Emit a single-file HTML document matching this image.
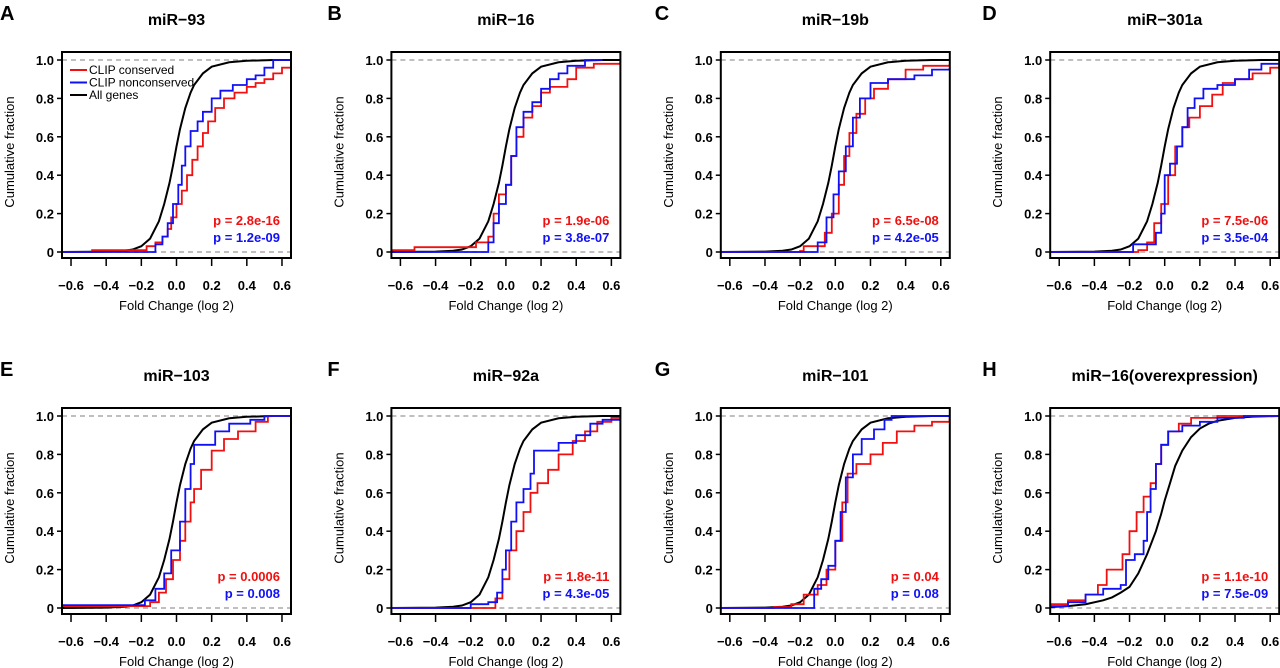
<!DOCTYPE html>
<html><head><meta charset="utf-8">
<style>
html,body{margin:0;padding:0;background:#fff;}
svg{display:block;font-family:"Liberation Sans",Arial,sans-serif;}
</style></head>
<body>
<svg id="fig" width="1280" height="668" viewBox="0 0 1280 668"></svg>
<script>
// ---- data ----
const panelLetters = ["A","B","C","D","E","F","G","H"];
const panelTitles = ["miR\u221293","miR\u221216","miR\u221219b","miR\u2212301a","miR\u2212103","miR\u221292a","miR\u2212101","miR\u221216(overexpression)"];
const pRed = ["p = 2.8e-16","p = 1.9e-06","p = 6.5e-08","p = 7.5e-06","p = 0.0006","p = 1.8e-11","p = 0.04","p = 1.1e-10"];
const pBlue = ["p = 1.2e-09","p = 3.8e-07","p = 4.2e-05","p = 3.5e-04","p = 0.008","p = 4.3e-05","p = 0.08","p = 7.5e-09"];
const xTicks = [-0.6,-0.4,-0.2,0.0,0.2,0.4,0.6];
const xTickLabels = ["\u22120.6","\u22120.4","\u22120.2","0.0","0.2","0.4","0.6"];
const yTicks = [0,0.2,0.4,0.6,0.8,1.0];
const yTickLabels = ["0","0.2","0.4","0.6","0.8","1.0"];

const blackStd = [[-0.65,0],[-0.4,0.002],[-0.3,0.006],[-0.25,0.013],[-0.2,0.03],[-0.15,0.07],[-0.1,0.16],[-0.07,0.25],[-0.04,0.36],[-0.02,0.45],[0,0.55],[0.02,0.64],[0.05,0.75],[0.08,0.83],[0.1,0.87],[0.15,0.93],[0.2,0.965],[0.3,0.988],[0.4,0.996],[0.55,1],[0.65,1]];
const blackH = [[-0.65,0.005],[-0.55,0.01],[-0.45,0.02],[-0.35,0.04],[-0.3,0.055],[-0.25,0.08],[-0.2,0.11],[-0.15,0.18],[-0.1,0.28],[-0.05,0.4],[-0.02,0.49],[0,0.56],[0.03,0.65],[0.06,0.74],[0.1,0.82],[0.15,0.89],[0.2,0.935],[0.25,0.96],[0.3,0.975],[0.4,0.99],[0.5,0.997],[0.65,1]];

const redA = [[-0.65,0],[-0.48,0.01],[-0.17,0.03],[-0.12,0.05],[-0.08,0.08],[-0.05,0.12],[-0.03,0.18],[0,0.25],[0.03,0.32],[0.06,0.4],[0.09,0.48],[0.12,0.55],[0.15,0.62],[0.18,0.68],[0.22,0.75],[0.27,0.8],[0.33,0.83],[0.4,0.86],[0.45,0.88],[0.5,0.9],[0.55,0.93],[0.6,0.96],[0.65,0.96]];
const blueA = [[-0.65,0],[-0.12,0.04],[-0.08,0.08],[-0.05,0.15],[-0.02,0.25],[0.01,0.35],[0.03,0.45],[0.05,0.55],[0.08,0.63],[0.12,0.68],[0.15,0.73],[0.2,0.8],[0.25,0.84],[0.32,0.87],[0.4,0.9],[0.45,0.92],[0.5,0.96],[0.55,1.0],[0.65,1.0]];
const redB = [[-0.65,0.01],[-0.52,0.025],[-0.17,0.05],[-0.1,0.08],[-0.07,0.2],[-0.04,0.3],[0,0.35],[0.03,0.5],[0.06,0.6],[0.1,0.7],[0.15,0.76],[0.2,0.83],[0.25,0.86],[0.35,0.9],[0.4,0.96],[0.5,0.98],[0.65,0.99]];
const blueB = [[-0.65,0],[-0.1,0.05],[-0.07,0.15],[-0.04,0.25],[0,0.35],[0.03,0.5],[0.06,0.65],[0.1,0.73],[0.15,0.78],[0.2,0.85],[0.25,0.9],[0.3,0.93],[0.35,0.97],[0.45,1.0],[0.55,1.0]];
const redC = [[-0.65,0],[-0.2,0.005],[-0.18,0.03],[-0.06,0.1],[-0.02,0.2],[0.02,0.35],[0.05,0.5],[0.08,0.62],[0.12,0.72],[0.17,0.8],[0.22,0.85],[0.3,0.9],[0.4,0.95],[0.5,0.97],[0.65,0.98]];
const blueC = [[-0.65,0],[-0.1,0.05],[-0.05,0.18],[-0.01,0.3],[0.02,0.42],[0.06,0.55],[0.1,0.7],[0.14,0.8],[0.2,0.88],[0.3,0.9],[0.45,0.92],[0.55,0.95],[0.65,0.96]];
const redD = [[-0.65,0],[-0.15,0.01],[-0.1,0.05],[-0.06,0.15],[-0.02,0.25],[0.02,0.4],[0.06,0.55],[0.1,0.65],[0.14,0.7],[0.2,0.76],[0.27,0.82],[0.33,0.88],[0.4,0.9],[0.5,0.93],[0.6,0.96],[0.65,0.97]];
const blueD = [[-0.65,0],[-0.18,0.04],[-0.05,0.1],[-0.02,0.2],[0,0.4],[0.03,0.46],[0.07,0.55],[0.1,0.65],[0.13,0.75],[0.17,0.8],[0.22,0.85],[0.3,0.87],[0.4,0.9],[0.48,0.95],[0.55,0.98],[0.65,0.98]];
const redE = [[-0.65,0.01],[-0.15,0.03],[-0.1,0.08],[-0.06,0.15],[-0.02,0.25],[0.02,0.35],[0.05,0.45],[0.08,0.55],[0.1,0.62],[0.14,0.72],[0.2,0.82],[0.27,0.88],[0.35,0.92],[0.45,0.97],[0.52,1.0],[0.65,1.0]];
const blueE = [[-0.65,0.015],[-0.18,0.04],[-0.12,0.1],[-0.07,0.18],[-0.03,0.3],[0.02,0.45],[0.05,0.62],[0.08,0.75],[0.1,0.85],[0.18,0.85],[0.22,0.92],[0.3,0.96],[0.42,0.98],[0.5,1.0],[0.65,1.0]];
const redF = [[-0.65,0],[-0.06,0.05],[-0.02,0.15],[0.02,0.3],[0.06,0.4],[0.1,0.5],[0.14,0.6],[0.18,0.65],[0.24,0.72],[0.3,0.8],[0.38,0.87],[0.45,0.92],[0.52,0.97],[0.6,0.99],[0.65,1.0]];
const blueF = [[-0.65,0],[-0.2,0.02],[-0.1,0.03],[-0.05,0.08],[-0.02,0.2],[0,0.3],[0.03,0.45],[0.06,0.55],[0.1,0.62],[0.14,0.7],[0.16,0.82],[0.22,0.82],[0.3,0.86],[0.4,0.9],[0.48,0.96],[0.55,0.98],[0.65,0.98]];
const redG = [[-0.65,0],[-0.35,0.005],[-0.25,0.02],[-0.18,0.07],[-0.1,0.12],[-0.05,0.2],[0,0.35],[0.04,0.55],[0.07,0.7],[0.12,0.75],[0.2,0.8],[0.27,0.86],[0.35,0.92],[0.45,0.95],[0.55,0.97],[0.65,1.0]];
const blueG = [[-0.65,0],[-0.12,0.1],[-0.08,0.15],[-0.04,0.22],[0,0.35],[0.03,0.5],[0.06,0.68],[0.1,0.8],[0.15,0.88],[0.22,0.93],[0.28,0.98],[0.32,1.0],[0.65,1.0]];
const redH = [[-0.65,0.02],[-0.55,0.04],[-0.45,0.07],[-0.38,0.12],[-0.33,0.2],[-0.24,0.28],[-0.2,0.4],[-0.16,0.5],[-0.12,0.58],[-0.08,0.65],[-0.05,0.75],[-0.02,0.85],[0.02,0.92],[0.08,0.96],[0.15,0.99],[0.3,1.0],[0.65,1.0]];
const blueH = [[-0.65,0.01],[-0.55,0.03],[-0.45,0.07],[-0.35,0.1],[-0.25,0.12],[-0.22,0.25],[-0.17,0.28],[-0.12,0.35],[-0.1,0.5],[-0.08,0.62],[-0.05,0.75],[-0.02,0.85],[0.02,0.92],[0.1,0.95],[0.2,0.97],[0.3,0.99],[0.45,1.0],[0.65,1.0]];

const redSeries = [redA,redB,redC,redD,redE,redF,redG,redH];
const blueSeries = [blueA,blueB,blueC,blueD,blueE,blueF,blueG,blueH];
const blackSeries = [blackStd,blackStd,blackStd,blackStd,blackStd,blackStd,blackStd,blackH];

// ---- drawing ----
const NS = "http://www.w3.org/2000/svg";
const svg = document.getElementById("fig");
function mk(tag, attrs, parent, text){
  const e = document.createElementNS(NS, tag);
  for (const k in attrs) e.setAttribute(k, attrs[k]);
  if (text !== undefined) e.textContent = text;
  (parent||svg).appendChild(e);
  return e;
}
const RED = "#f01010", BLUE = "#1010f5";
const BW = 229, BH = 206;
const defs = mk("defs", {});
for (let i = 0; i < 8; i++){
  const c = i % 4, r = Math.floor(i / 4);
  const L = 62 + 329.4 * c, T = 52 + 356 * r;
  const sx = v => L + 114.5 + v * 175.8;
  const sy = v => T + 200 - v * 192;
  const g = mk("g", {});
  
  
  const cp = mk("clipPath", {id: "clip" + i}, defs);
  mk("rect", {x: L, y: T, width: BW, height: BH}, cp);

  const let_ = mk("text", {x: L - 62 + (c*-2), y: T - 32, "font-size": 20, "font-weight": "bold", fill: "#000"}, g, panelLetters[i]);
  
  
  const tt = mk("text", {x: L + BW/2, y: T - 27, "font-size": 16, "font-weight": "bold", "text-anchor": "middle", fill: "#000"}, g, panelTitles[i]);
  
  

  [0, 1].forEach(v => {
    const dl = mk("line", {x1: L, x2: L + BW, y1: sy(v), y2: sy(v), stroke: "#aaa", "stroke-width": 1.5, "stroke-dasharray": "5,4"}, g);
    
    
  });

  const cg = mk("g", {"clip-path": "url(#clip" + i + ")"}, g);
  const bd = blackSeries[i].map((p, k) => (k ? "L" : "M") + sx(p[0]).toFixed(1) + "," + sy(p[1]).toFixed(1)).join("");
  const bl = mk("path", {d: bd, fill: "none", stroke: "#000", "stroke-width": 2}, cg);
  
  
  function stepPath(arr){
    let d = "M" + sx(arr[0][0]).toFixed(1) + "," + sy(arr[0][1]).toFixed(1);
    for (let k = 1; k < arr.length; k++) d += "H" + sx(arr[k][0]).toFixed(1) + "V" + sy(arr[k][1]).toFixed(1);
    return d;
  }
  const rl = mk("path", {d: stepPath(redSeries[i]), fill: "none", stroke: RED, "stroke-width": 1.8}, cg);
  
  
  const bll = mk("path", {d: stepPath(blueSeries[i]), fill: "none", stroke: BLUE, "stroke-width": 1.8}, cg);
  
  

  const box = mk("rect", {x: L, y: T, width: BW, height: BH, fill: "none", stroke: "#000", "stroke-width": 2}, g);
  
  

  xTicks.forEach((v, k) => {
    const tk = mk("line", {x1: sx(v), x2: sx(v), y1: T + BH, y2: T + BH + 8, stroke: "#000", "stroke-width": 1.5}, g);
    
    
    const tl = mk("text", {x: sx(v), y: T + BH + 32, "font-size": 13, "font-weight": "bold", "text-anchor": "middle", fill: "#000"}, g, xTickLabels[k]);
    
    
  });
  const xt = mk("text", {x: L + BW/2, y: T + BH + 52, "font-size": 13, "text-anchor": "middle", fill: "#000"}, g, "Fold Change (log 2)");
  
  

  yTicks.forEach((v, k) => {
    const tk = mk("line", {x1: L - 5, x2: L, y1: sy(v), y2: sy(v), stroke: "#000", "stroke-width": 1.5}, g);
    
    
    const tl = mk("text", {x: L - 8, y: sy(v) + 5, "font-size": 13, "font-weight": "bold", "text-anchor": "end", fill: "#000"}, g, yTickLabels[k]);
    
    
  });
  const yt = mk("text", {x: 0, y: 0, "font-size": 13, "text-anchor": "middle", fill: "#000", transform: "translate(" + (L - 52 + 4) + "," + (T + 100) + ") rotate(-90)"}, g, "Cumulative fraction");
  
  

  const pr = mk("text", {x: L + BW - 11, y: T + 173, "font-size": 13, "font-weight": "bold", "text-anchor": "end", fill: RED}, g, pRed[i]);
  
  
  const pb = mk("text", {x: L + BW - 11, y: T + 190, "font-size": 13, "font-weight": "bold", "text-anchor": "end", fill: BLUE}, g, pBlue[i]);
  
  

  if (i === 0){
    const lg = mk("g", {}, g);
    
    
    const items = [["CLIP conserved", RED], ["CLIP nonconserved", BLUE], ["All genes", "#000"]];
    items.forEach((it, k) => {
      const yy = T + 18 + k * 12.5;
      const ln = mk("line", {x1: L + 8, x2: L + 25, y1: yy, y2: yy, stroke: it[1], "stroke-width": 2}, lg);
      
      
      const tx = mk("text", {x: L + 27, y: yy + 4, "font-size": 12, fill: "#000"}, lg, it[0]);
      
      
    });
  }
}
</script>
</body></html>
